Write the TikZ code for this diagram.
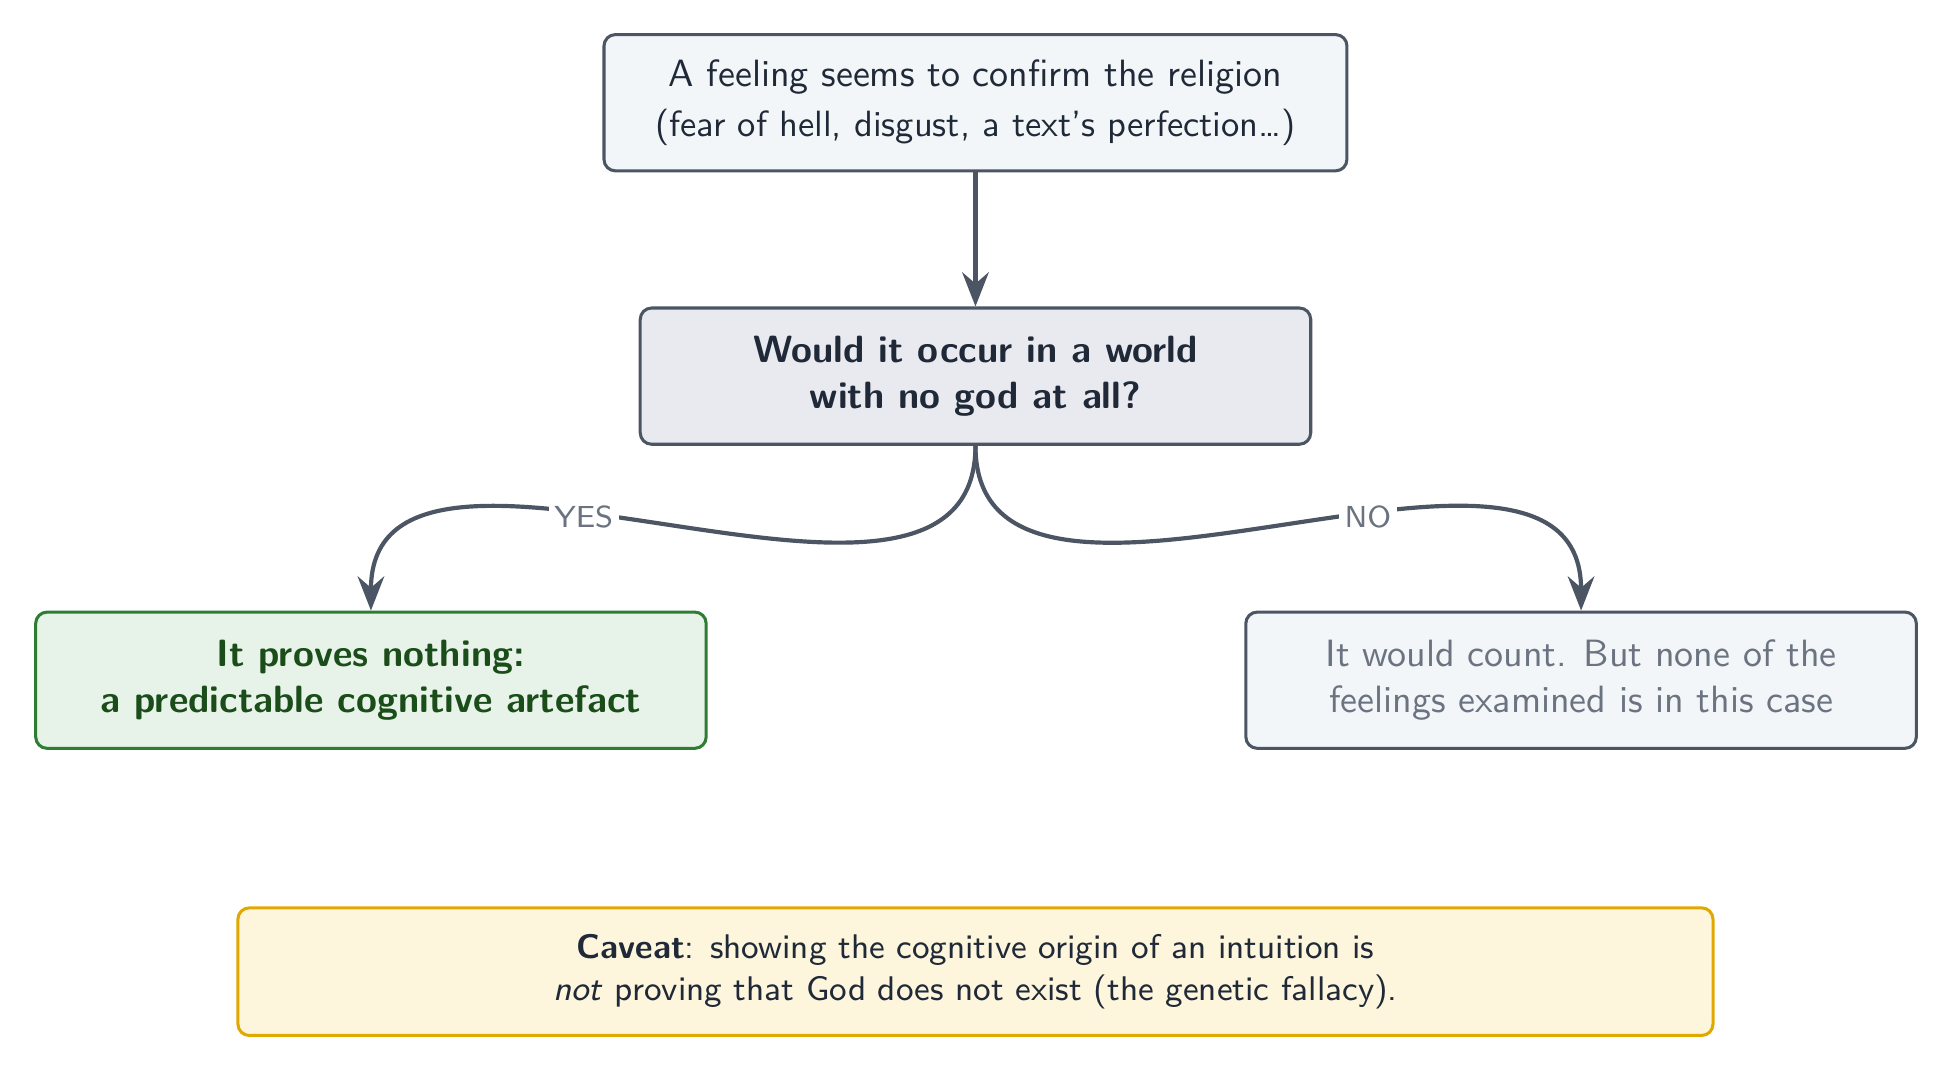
\documentclass[tikz,border=0pt]{standalone}
\usepackage{tikz}
\usetikzlibrary{arrows.meta,positioning}
\renewcommand{\familydefault}{\sfdefault}

\definecolor{slate}{RGB}{75,85,99}
\definecolor{ink}{RGB}{31,41,55}
\definecolor{muted}{RGB}{107,114,128}
\definecolor{paleblue}{RGB}{242,246,249}
\definecolor{palegray}{RGB}{232,234,240}
\definecolor{palegreen}{RGB}{231,243,232}
\definecolor{leaf}{RGB}{46,125,50}
\definecolor{darkleaf}{RGB}{27,77,27}
\definecolor{palegold}{RGB}{253,246,221}
\definecolor{gold}{RGB}{224,168,0}

\begin{document}
\begin{tikzpicture}[>={Stealth[length=9pt,width=7pt,inset=3pt]}, line width=0.8pt,
  box/.style={draw=slate, fill=paleblue, rounded corners=3pt, align=center,
    text=ink, minimum width=6.2cm, minimum height=1.26cm},
  question/.style={box, fill=palegray, font=\bfseries},
  yesbox/.style={box, draw=leaf, fill=palegreen, text=darkleaf, font=\bfseries},
  nobox/.style={box, text=muted},
  caveat/.style={box, draw=gold, fill=palegold, font=\small,
    minimum width=13.64cm, minimum height=1.18cm},
  tag/.style={fill=white, text=muted, font=\footnotesize, inner sep=1.5pt},
  link/.style={->, draw=slate, line width=1.1pt}]
\useasboundingbox (0,0) rectangle (18.05,9.91);

\node[box, minimum width=6.87cm] (feeling) at (9.02,8.96)
  {A feeling seems to confirm the religion\\[1pt]
   {\fontsize{9.6}{12}\selectfont (fear of hell, disgust, a text's perfection…)}};
\node[question, below=1.24cm of feeling] (question)
  {Would it occur in a world\\with no god at all?};
\node[yesbox] (nothing) at (3.43,3.62)
  {It proves nothing:\\a predictable cognitive artefact};
\node[nobox] (count) at (14.62,3.62)
  {It would count. But none of the\\feelings examined is in this case};
\node[caveat] (warning) at (9.02,0.925)
  {\textbf{Caveat}: showing the cognitive origin of an intuition is\\
   \emph{not} proving that God does not exist (the genetic fallacy).};

\draw[link] (feeling) -- (question);
\draw[link] (question.south) to[out=-90,in=90] node[tag, pos=0.6] {YES} (nothing.north);
\draw[link] (question.south) to[out=-90,in=90] node[tag, pos=0.6] {NO} (count.north);
\end{tikzpicture}
\end{document}
